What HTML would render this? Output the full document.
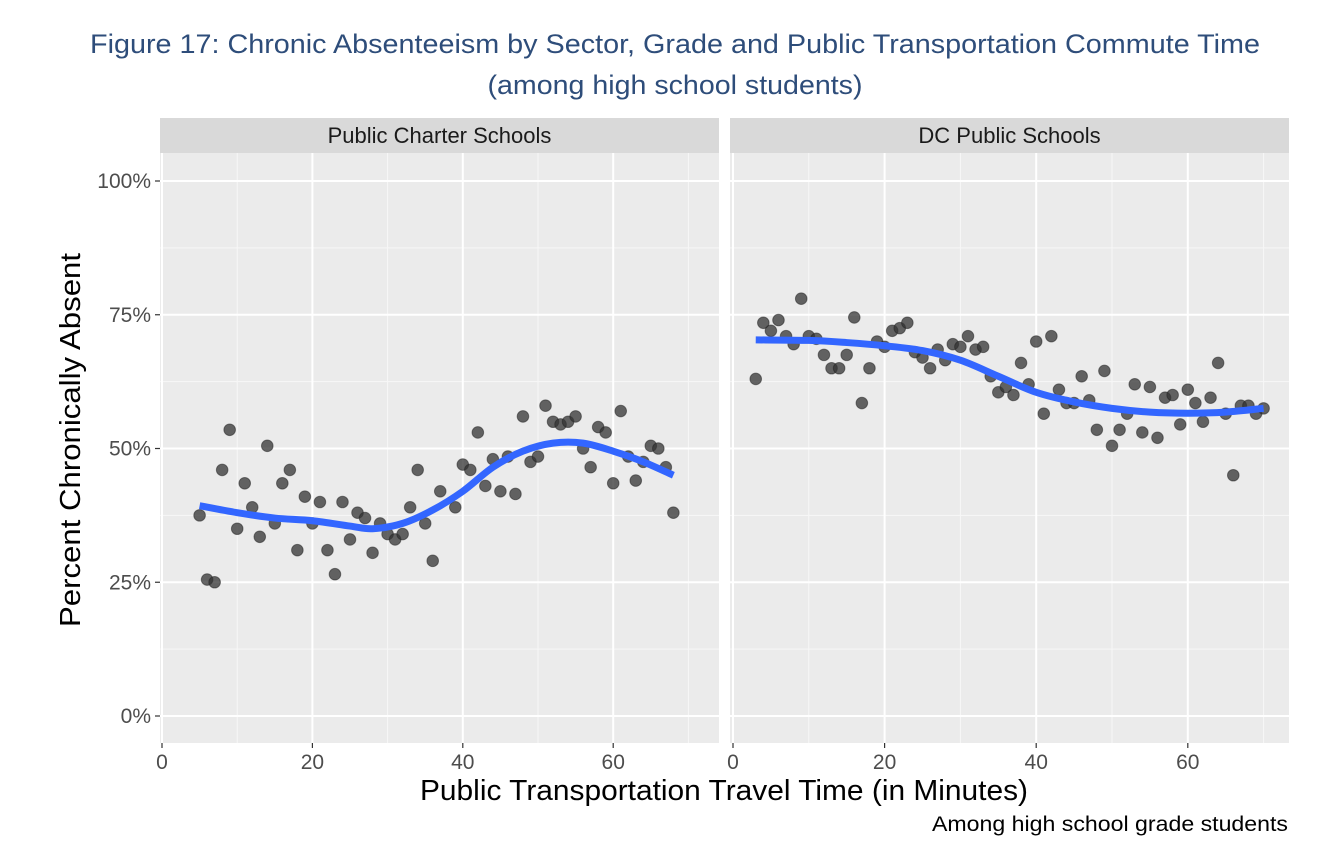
<!DOCTYPE html>
<html><head><meta charset="utf-8"><style>
body{margin:0;background:#fff;}
svg text{font-family:"Liberation Sans",sans-serif;}
</style></head><body>
<svg width="1322" height="852" xmlns="http://www.w3.org/2000/svg">
<text x="675" y="53" text-anchor="middle" font-size="27" fill="#2e4d7a" textLength="1170" lengthAdjust="spacingAndGlyphs">Figure 17: Chronic Absenteeism by Sector, Grade and Public Transportation Commute Time</text>
<text x="675" y="94" text-anchor="middle" font-size="27" fill="#2e4d7a" textLength="375" lengthAdjust="spacingAndGlyphs">(among high school students)</text>
<g id="plot"></g>
<text transform="translate(80,440) rotate(-90)" text-anchor="middle" font-size="29" fill="#000" textLength="374" lengthAdjust="spacingAndGlyphs">Percent Chronically Absent</text>
<text x="724" y="800" text-anchor="middle" font-size="29" fill="#000" textLength="608" lengthAdjust="spacingAndGlyphs">Public Transportation Travel Time (in Minutes)</text>
<text x="1288" y="831" text-anchor="end" font-size="21" fill="#000" textLength="356" lengthAdjust="spacingAndGlyphs">Among high school grade students</text>
</svg>
<script>
const panelNames = ["Public Charter Schools","DC Public Schools"];
const yTicks = [0,25,50,75,100];
const yTickLabels = ["0%","25%","50%","75%","100%"];
const xTicks = [0,20,40,60];
const charterPoints = [[5,37.5],[6,25.5],[7,25],[8,46],[9,53.5],[10,35],[11,43.5],[12,39],[13,33.5],[14,50.5],[15,36],[16,43.5],[17,46],[18,31],[19,41],[20,36],[21,40],[22,31],[23,26.5],[24,40],[25,33],[26,38],[27,37],[28,30.5],[29,36],[30,34],[31,33],[32,34],[33,39],[34,46],[35,36],[36,29],[37,42],[39,39],[40,47],[41,46],[42,53],[43,43],[44,48],[45,42],[46,48.5],[47,41.5],[48,56],[49,47.5],[50,48.5],[51,58],[52,55],[53,54.5],[54,55],[55,56],[56,50],[57,46.5],[58,54],[59,53],[60,43.5],[61,57],[62,48.5],[63,44],[64,47.5],[65,50.5],[66,50],[67,46.5],[68,38]];
const charterSmooth = [[5,39.3],[10,38],[15,37],[20,36.5],[25,35.5],[28,35],[32,36],[36,38.5],[40,42],[44,46.5],[48,49.5],[52,51],[56,51],[60,49.5],[64,47.5],[68,45]];
const dcpsPoints = [[3,63],[4,73.5],[5,72],[6,74],[7,71],[8,69.5],[9,78],[10,71],[11,70.5],[12,67.5],[13,65],[14,65],[15,67.5],[16,74.5],[17,58.5],[18,65],[19,70],[20,69],[21,72],[22,72.5],[23,73.5],[24,68],[25,67],[26,65],[27,68.5],[28,66.5],[29,69.5],[30,69],[31,71],[32,68.5],[33,69],[34,63.5],[35,60.5],[36,61.5],[37,60],[38,66],[39,62],[40,70],[41,56.5],[42,71],[43,61],[44,58.5],[45,58.5],[46,63.5],[47,59],[48,53.5],[49,64.5],[50,50.5],[51,53.5],[52,56.5],[53,62],[54,53],[55,61.5],[56,52],[57,59.5],[58,60],[59,54.5],[60,61],[61,58.5],[62,55],[63,59.5],[64,66],[65,56.5],[66,45],[67,58],[68,58],[69,56.5],[70,57.5]];
const dcpsSmooth = [[3,70.3],[10,70.2],[15,69.8],[20,69.2],[25,68.3],[30,66.5],[35,63.5],[40,60.5],[45,58.7],[50,57.5],[55,56.8],[60,56.6],[65,56.8],[70,57.5]];

const NS="http://www.w3.org/2000/svg";
const g=document.getElementById('plot');
function mk(tag,attrs,parent){const e=document.createElementNS(NS,tag);for(const k in attrs)e.setAttribute(k,attrs[k]);(parent||g).appendChild(e);return e;}
const y=v=>716-v*5.35;
function smoothPath(P){
  let d='M'+P[0][0]+','+P[0][1];
  for(let i=0;i<P.length-1;i++){
    const p0=P[Math.max(0,i-1)],p1=P[i],p2=P[i+1],p3=P[Math.min(P.length-1,i+2)];
    const c1x=p1[0]+(p2[0]-p0[0])/6,c1y=p1[1]+(p2[1]-p0[1])/6;
    const c2x=p2[0]-(p3[0]-p1[0])/6,c2y=p2[1]-(p3[1]-p1[1])/6;
    d+=`C${c1x},${c1y} ${c2x},${c2y} ${p2[0]},${p2[1]}`;
  }
  return d;
}
const panels=[{x0:160,x1:719,o:162,s:7.52,pts:charterPoints,sm:charterSmooth},{x0:730,x1:1289,o:733,s:7.58,pts:dcpsPoints,sm:dcpsSmooth}];
panels.forEach((p,i)=>{
  const x=v=>p.o+v*p.s;
  const strip=mk('rect',{x:p.x0,y:118,width:p.x1-p.x0,height:35,fill:'#d9d9d9'});
  
  
  const st=mk('text',{x:(p.x0+p.x1)/2,y:143,'text-anchor':'middle','font-size':22,fill:'#1a1a1a'});
  st.textContent=panelNames[i];
  
  
  const bg=mk('rect',{x:p.x0,y:153,width:p.x1-p.x0,height:590,fill:'#ebebeb'});
  
  
  for(let v=12.5;v<=100;v+=25) mk('line',{x1:p.x0,x2:p.x1,y1:y(v),y2:y(v),stroke:'#f7f7f7','stroke-width':1});
  for(let v=10;v<=70;v+=20) mk('line',{x1:x(v),x2:x(v),y1:153,y2:743,stroke:'#f7f7f7','stroke-width':1});
  yTicks.forEach(v=>mk('line',{x1:p.x0,x2:p.x1,y1:y(v),y2:y(v),stroke:'#fff','stroke-width':2}));
  xTicks.forEach(v=>{
    mk('line',{x1:x(v),x2:x(v),y1:153,y2:743,stroke:'#fff','stroke-width':2});
    mk('line',{x1:x(v),x2:x(v),y1:743,y2:748,stroke:'#333','stroke-width':1.2});
    const t=mk('text',{x:x(v),y:769,'text-anchor':'middle','font-size':21,fill:'#4d4d4d'});
    t.textContent=v;
    
    
  });
  p.pts.forEach(d=>{
    const c=mk('circle',{cx:x(d[0]),cy:y(d[1]),r:5.8,fill:'#333','fill-opacity':0.75,stroke:'#222','stroke-opacity':0.5});
    
    
  });
  const ln=mk('path',{d:smoothPath(p.sm.map(d=>[x(d[0]),y(d[1])])),fill:'none',stroke:'#3366ff','stroke-width':7,'stroke-linejoin':'round','stroke-linecap':'butt'});
  
  
});
yTicks.forEach((v,i)=>{
  mk('line',{x1:155,x2:160,y1:y(v),y2:y(v),stroke:'#333','stroke-width':1.2});
  const t=mk('text',{x:151,y:y(v)+7,'text-anchor':'end','font-size':21,fill:'#4d4d4d'});
  t.textContent=yTickLabels[i];
  
  
});
</script>
</body></html>
